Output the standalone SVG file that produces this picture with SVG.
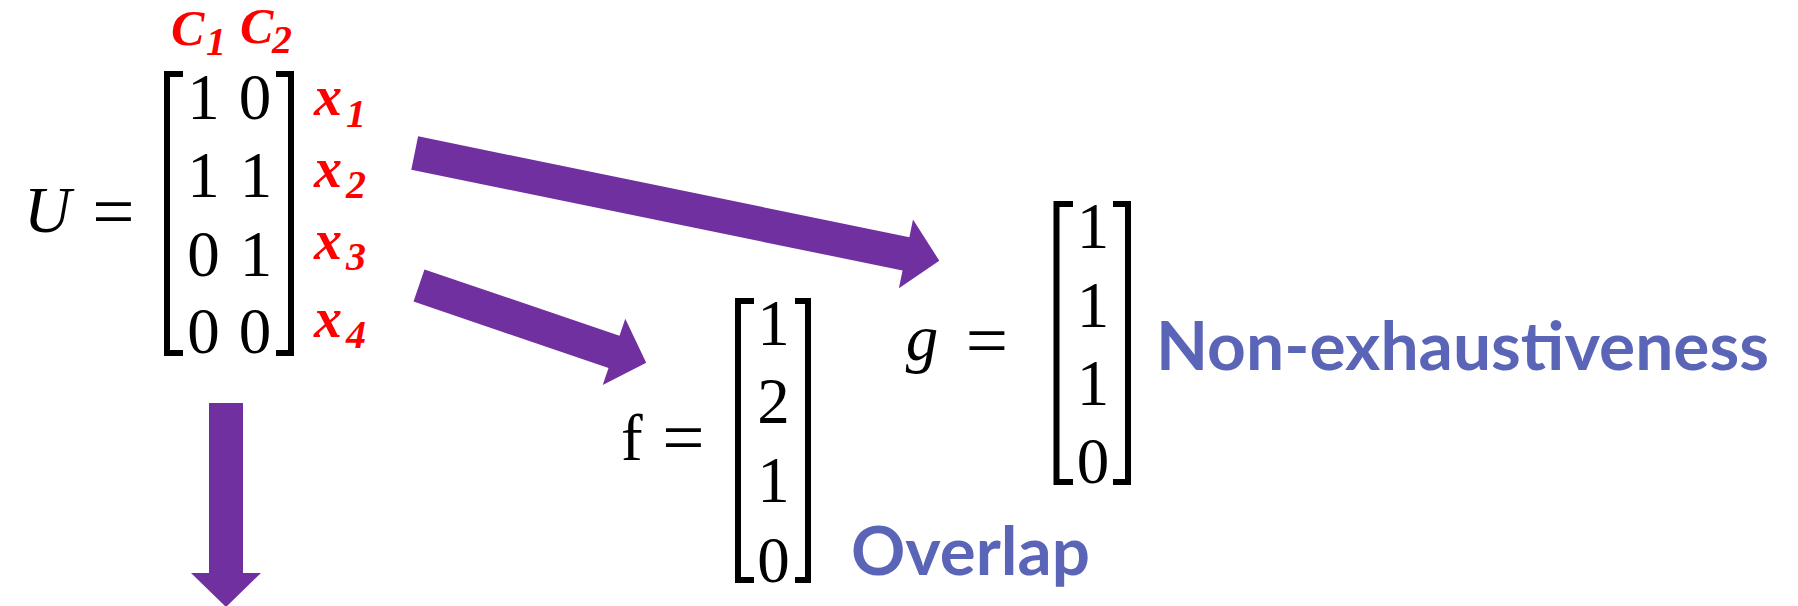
<svg xmlns="http://www.w3.org/2000/svg" width="1798" height="606" viewBox="0 0 1798 606">
<style>
.m{font-family:"Liberation Serif",serif;font-size:65px;fill:#000}
.eq{font-family:"Liberation Serif",serif;font-size:75px;fill:#000;text-anchor:middle}
.mi{font-family:"Liberation Serif",serif;font-size:65px;font-style:italic;fill:#000}
.c{text-anchor:middle}
.br{fill:none;stroke:#000;stroke-width:6;stroke-linejoin:miter;stroke-linecap:butt}
.rl{font-family:"Liberation Serif",serif;font-weight:bold;font-style:italic;fill:#ff0000}
.sub{font-size:40px}
.lb{font-family:Lato,"Open Sans",sans-serif;font-weight:bold;font-size:66px;fill:#5b65b7}
.arr{fill:#7030a0}
</style>
<rect width="1798" height="606" fill="#fff"/>
<g id="U-matrix">
<text class="mi" x="24" y="232">U</text>
<text class="eq" x="113.5" y="236">=</text>
<path class="br" d="M183,74 H167 V353 H183"/>
<path class="br" d="M276,74 H291 V353 H276"/>
<text class="m c" x="203.5" y="119">1</text><text class="m c" x="255" y="119">0</text>
<text class="m c" x="203.5" y="197">1</text><text class="m c" x="256" y="197">1</text>
<text class="m c" x="203.5" y="276">0</text><text class="m c" x="256" y="276">1</text>
<text class="m c" x="203.5" y="353">0</text><text class="m c" x="255" y="353">0</text>
<text class="rl" font-size="50"><tspan x="171" y="45">C</tspan><tspan class="sub" x="206" y="55" font-size="36">1</tspan><tspan x="240" y="43">C</tspan><tspan class="sub" x="272" y="53" font-size="36">2</tspan></text>
<text class="rl" font-size="56"><tspan x="314" y="115">x</tspan><tspan class="sub" x="346" y="127">1</tspan></text>
<text class="rl" font-size="56"><tspan x="314" y="187">x</tspan><tspan class="sub" x="346" y="198">2</tspan></text>
<text class="rl" font-size="56"><tspan x="314" y="259">x</tspan><tspan class="sub" x="346" y="270">3</tspan></text>
<text class="rl" font-size="56"><tspan x="314" y="337">x</tspan><tspan class="sub" x="346" y="348">4</tspan></text>
</g>
<g id="f-vector">
<text class="m" x="621" y="460">f</text>
<text class="eq" x="683.5" y="462">=</text>
<path class="br" d="M754,301 H738 V580 H754"/>
<path class="br" d="M795,301 H808 V580 H795"/>
<text class="m c" x="773.5" y="345">1</text>
<text class="m c" x="773.5" y="423">2</text>
<text class="m c" x="773.5" y="502">1</text>
<text class="m c" x="773.5" y="582">0</text>
</g>
<g id="g-vector">
<text class="mi c" x="922" y="360" font-size="72">g</text>
<text class="eq" x="987" y="365">=</text>
<path class="br" d="M1073,204 H1056.5 V482 H1073"/>
<path class="br" d="M1113,204 H1128 V482 H1113"/>
<text class="m c" x="1093" y="248">1</text>
<text class="m c" x="1093" y="327">1</text>
<text class="m c" x="1093" y="405">1</text>
<text class="m c" x="1093" y="483">0</text>
</g>
<g id="label-overlap">
<text class="lb" x="851" y="575" textLength="239" lengthAdjust="spacingAndGlyphs">Overlap</text>
</g>
<g id="label-nonexhaustiveness">
<text class="lb" x="1156" y="370" textLength="613" lengthAdjust="spacingAndGlyphs">Non-exhaustiveness</text>
</g>
<g id="connectors">
<path class="arr" transform="translate(414.7,153) rotate(11.6)" d="M0,-17 H501.5 V-35 L535.5,0 L501.5,35 V17 H0 Z"/>
<path class="arr" transform="translate(419,285.5) rotate(18.8)" d="M0,-17 H206 V-35 L240,0 L206,35 V17 H0 Z"/>
<path class="arr" transform="translate(226,403) rotate(90)" d="M0,-17 H170 V-35 L204,0 L170,35 V17 H0 Z"/>
</g>
</svg>
